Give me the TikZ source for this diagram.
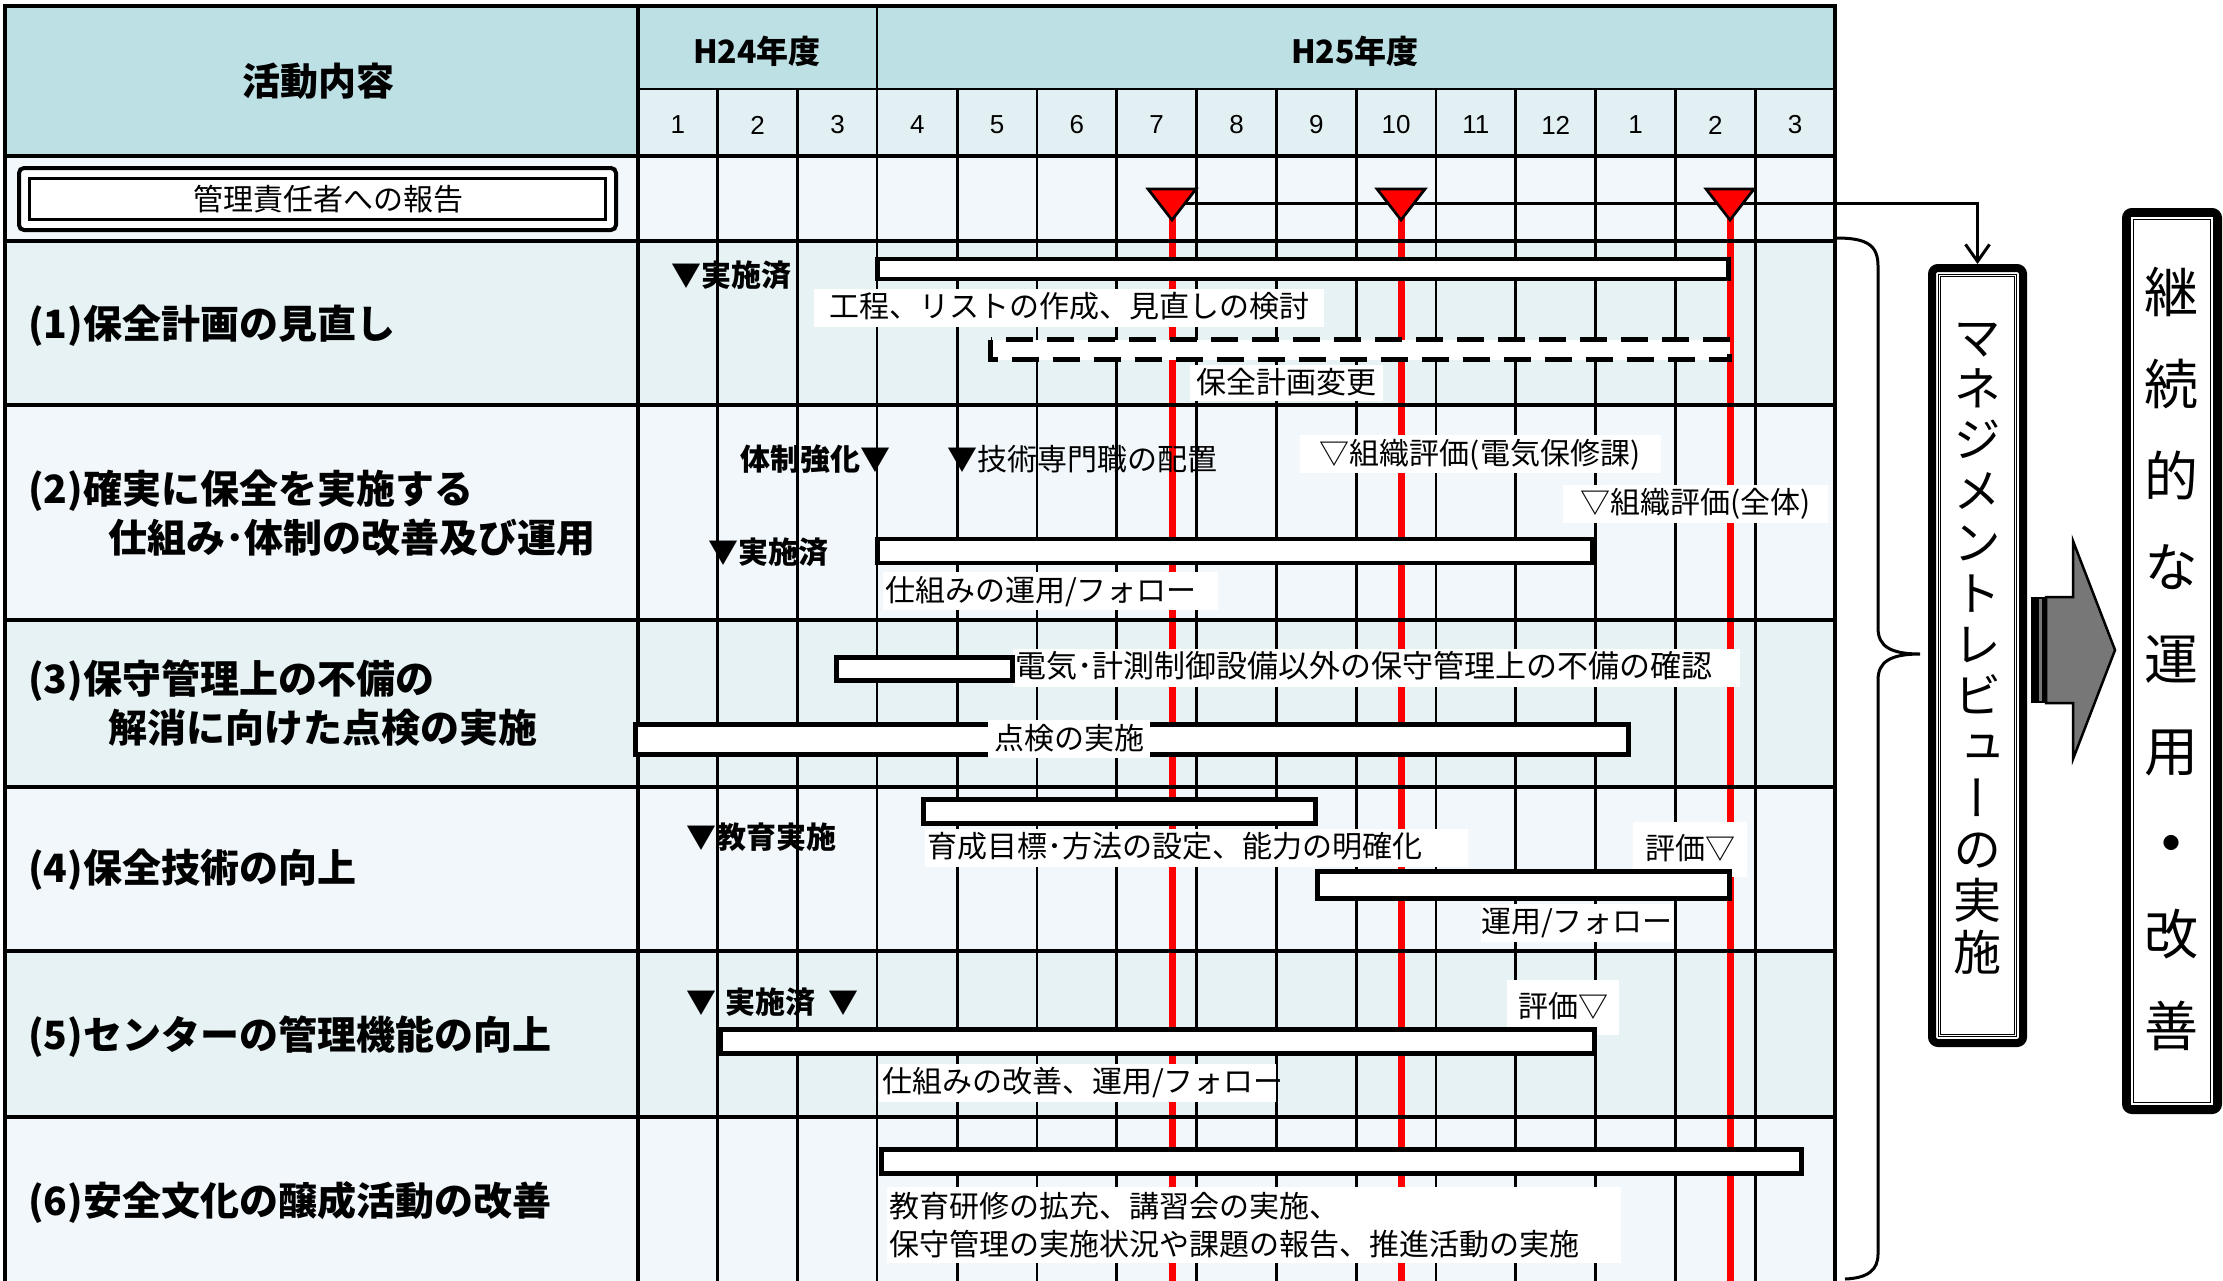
\documentclass[tikz,border=0pt]{standalone}
\usepackage{fontspec}
\setmainfont{Noto Sans CJK JP}
\newfontfamily\jpvert[RawFeature=+vert]{Noto Sans CJK JP}
\newfontfamily\latinf{Liberation Sans}
\usetikzlibrary{arrows.meta}
\newcommand{\myfs}[1]{\fontsize{#1}{#1}\selectfont}
\definecolor{hdr}{HTML}{BDE0E4}
\definecolor{mrow}{HTML}{E3F0F3}
\definecolor{rowa}{HTML}{F1F7FA}
\definecolor{rowb}{HTML}{E6F2F4}
\definecolor{agray}{HTML}{777777}
\begin{document}
\begin{tikzpicture}[x=1pt,y=-1pt,
  major/.style={line width=3.3},
  minor/.style={line width=2.7},
  redl/.style={draw=red,line width=7},
  tri/.style={fill=red,draw=black,line width=2.7,line join=miter},
  bar/.style={draw=black,fill=white,line width=4.5},
  dbar/.style={draw=black,fill=white,line width=5,dash pattern=on 27pt off 14pt},
  lblb/.style={fill=white,inner sep=0pt,font=\myfs{30}},
  lbl/.style={lblb,minimum height=38,text height=25,text depth=5},
  bt/.style={inner sep=0pt,anchor=west,font=\bfseries\myfs{30},text height=25,text depth=5},
  nt/.style={inner sep=0pt,anchor=west,font=\myfs{30},text height=25,text depth=5},
  rl/.style={inner sep=0pt,anchor=west,font=\bfseries\myfs{39},text height=33,text depth=6},
  hd/.style={inner sep=0pt,font=\bfseries\myfs{32},text height=27,text depth=5},
  mon/.style={inner sep=0pt,font=\latinf\myfs{26}},
  conn/.style={line width=3,-{Straight Barb[length=17pt,width=24pt]}},
  vbox/.style={draw=black,line width=8,rounded corners=6,inner sep=0pt,fill=white},
  dline/.style={double,line width=1,double distance=1.8}
]
\useasboundingbox (0,0) rectangle (2223,1280);

% ---------- backgrounds ----------
\fill[hdr] (5,6) rectangle (1835,89);
\fill[hdr] (5,89) rectangle (638,156);
\fill[mrow] (638,89) rectangle (1835,156);
\fill[rowa] (5,156) rectangle (1835,241);
\fill[rowb] (5,241) rectangle (1835,405);
\fill[rowa] (5,405) rectangle (1835,620);
\fill[rowb] (5,620) rectangle (1835,787);
\fill[rowa] (5,787) rectangle (1835,951);
\fill[rowb] (5,951) rectangle (1835,1117);
\fill[rowa] (5,1117) rectangle (1835,1285);

% ---------- red milestone lines ----------
\coordinate (m1) at (1172,203);
\coordinate (m2) at (1401,203);
\coordinate (m3) at (1730,203);
\coordinate (e1) at (1172,1290);
\coordinate (e2) at (1401,1290);
\coordinate (e3) at (1730,1290);
\draw[redl] (m1) -- (e1);
\draw[redl] (m2) -- (e2);
\draw[redl] (m3) -- (e3);

% ---------- grid ----------
\draw[major] (5,1290) -- (5,6) -- (1835,6) -- (1835,1290);
\foreach \yy in {156,241,405,620,787,951,1117}
  \draw[major] (5,\yy) -- (1835,\yy);
\draw[minor] (638,89) -- (1835,89);
\draw[major] (638,6) -- (638,1290);
\draw[minor] (877,6) -- (877,1290);
\foreach \i in {1,2,4,5,6,7,8,9,10,11,12,13,14}
  \draw[minor] ({638+\i*79.8},89) -- ({638+\i*79.8},1290);

% ---------- header ----------
\node[hd,font=\bfseries\myfs{38},text height=33,text depth=6] (hact) at (318,82) {活動内容};
\node[hd] (h24) at (757,52) {H24年度};
\node[hd] (h25) at (1355,52) {H25年度};
\foreach \m [count=\i from 0] in {1,2,3,4,5,6,7,8,9,10,11,12,1,2,3}
  \node[mon] (mn\i) at ({638+79.8*\i+39.9},125) {\m};

% ---------- report box ----------
\node[draw=black,line width=4,rounded corners=5,fill=white,inner sep=0pt,
      minimum width=597,minimum height=62,font=\myfs{30}] (rep) at (317.5,199)
      {\hspace*{22pt}管理責任者への報告};
\draw[line width=3] ([shift={(12.5,12.5)}]rep.north west) rectangle ([shift={(-12.5,-12.5)}]rep.south east);

% ---------- row labels ----------
\node[rl] (r1) at (28,325) {(1)保全計画の見直し};
\node[rl] (r2a) at (28,490) {(2)確実に保全を実施する};
\node[rl] (r2b) at (108,539) {仕組み･体制の改善及び運用};
\node[rl] (r3a) at (28,680) {(3)保守管理上の不備の};
\node[rl] (r3b) at (108,729) {解消に向けた点検の実施};
\node[rl] (r4) at (28,869) {(4)保全技術の向上};
\node[rl] (r5) at (28,1036) {(5)センターの管理機能の向上};
\node[rl] (r6) at (28,1202) {(6)安全文化の醸成活動の改善};

% ---------- bar drawn below its label ----------
\draw[bar] (635.5,724.5) rectangle (1628.5,754.5);

% ---------- labels with white background ----------
\node[lbl,minimum width=510] (l1) at (1069,307.5) {工程、リストの作成、見直しの検討};
\node[lbl,minimum width=193,minimum height=36] (l2) at (1286,383) {保全計画変更};
\node[lbl,minimum width=361] (l3) at (1480,454) {▽組織評価(電気保修課)};
\node[lbl,minimum width=265] (l4) at (1695.5,503.5) {▽組織評価(全体)};
\node[lbl,text width=335,align=left] (l5) at (1050.5,591) {\hspace*{2pt}仕組みの運用/フォロー};
\node[lbl,text width=727,align=left,font=\myfs{31}] (l6) at (1376.5,667.5) {\hspace*{2pt}電気･計測制御設備以外の保守管理上の不備の確認};
\node[lbl,minimum width=162] (l7) at (1069,739) {点検の実施};
\node[lbl,text width=543,align=left] (l8) at (1196.5,847.5) {\hspace*{2pt}育成目標･方法の設定、能力の明確化};
\node[lbl,minimum width=114,minimum height=55] (l9) at (1690,849.5) {評価▽};
\node[lbl,minimum width=184] (l10) at (1577,922.5) {運用/フォロー};
\node[lbl,minimum width=112,minimum height=55] (l11) at (1563,1007.5) {評価▽};
\node[lbl,text width=397,align=left] (l12) at (1077.5,1082.5) {\hspace*{3pt}仕組みの改善、運用/フォロー};
\node[lblb,text width=734,align=left,minimum height=76,font=\fontsize{30}{38}\selectfont] (l13) at (1254,1225)
  {\hspace*{2pt}教育研修の拡充、講習会の実施、\\\hspace*{2pt}保守管理の実施状況や課題の報告、推進活動の実施};

% ---------- marks ----------
\node[bt] (b1) at (671,276) {▼実施済};
\node[bt] (b2) at (740,460) {体制強化▼};
\node[nt] (b3) at (947,460) {{\bfseries ▼}技術専門職の配置};
\node[bt] (b4) at (708,553) {▼実施済};
\node[bt] (b5) at (686,838) {▼教育実施};
\node[bt] (b6) at (686,1003) {▼\hspace{9pt}実施済\hspace{13pt}▼};

% ---------- bars ----------
\draw[bar] (877.5,259) rectangle (1728.5,279);
\draw[dbar] (990.5,339.5) rectangle (1729.5,359.5);
\draw[bar] (877.5,539) rectangle (1592.5,563);
\draw[bar] (836.5,657.5) rectangle (1012.5,680.5);
\draw[bar] (923.5,799.5) rectangle (1315.5,823.5);
\draw[bar] (1317.5,871.5) rectangle (1729.5,898.5);
\draw[bar] (720.5,1029.5) rectangle (1594.5,1053.5);
\draw[bar] (881.5,1149.5) rectangle (1801.5,1173.5);

% ---------- right side boxes ----------
\node[vbox,minimum width=91,minimum height=775] (mr) at (1977.5,655.5) {};
\draw[dline] ([shift={(11.5,11.5)}]mr.north west) rectangle ([shift={(-11.5,-11.5)}]mr.south east);
\node[inner sep=0pt,align=center,font=\jpvert\fontsize{48}{51.25}\selectfont] (mrt) at (1977,648.5)
  {マ\\ネ\\ジ\\メ\\ン\\ト\\レ\\ビ\\ュ\\ー\\の\\実\\施};

\node[vbox,minimum width=92,minimum height=898] (ke) at (2172,661) {};
\draw[dline] ([shift={(10,10)}]ke.north west) rectangle ([shift={(-10,-10)}]ke.south east);
\node[inner sep=0pt,align=center,font=\jpvert\fontsize{54}{91.75}\selectfont] (ket) at (2171,659)
  {継\\続\\的\\な\\運\\用\\{\bfseries ・}\\改\\善};

% ---------- connector and milestones ----------
\draw[conn] (m1) -| (mr.north);
\foreach \c in {m1,m2,m3}
  \draw[tri] ([shift={(-24,-14)}]\c) -- ([shift={(24,-14)}]\c) -- ([shift={(0,17)}]\c) -- cycle;

% ---------- brace ----------
\draw[line width=3] (1837,238) .. controls (1868,238) and (1878,246) .. (1878,266)
  -- (1878,628) .. controls (1878,646) and (1890,654) .. (1920,654)
  .. controls (1890,654) and (1878,662) .. (1878,680)
  -- (1878,1254) .. controls (1878,1270) and (1868,1278) .. (1845,1279);

% ---------- block arrow ----------
\fill[black] (2031,597) rectangle (2046,703);
\fill[agray] (2039,599) rectangle (2042,701);
\draw[fill=agray,line width=2.5,line join=miter] (2046,597) -- (2073,597) -- (2073,541)
  -- (2115,650) -- (2073,759) -- (2073,703) -- (2046,703) -- cycle;
\end{tikzpicture}
\end{document}
